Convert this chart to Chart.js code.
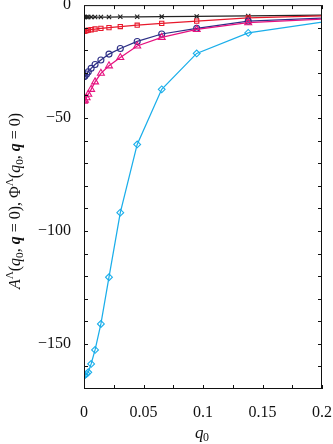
<!DOCTYPE html>
<html><head><meta charset="utf-8">
<script src="https://cdn.jsdelivr.net/npm/chart.js@4/dist/chart.umd.min.js"></script>
<style>html,body{margin:0;padding:0;background:#fff;}#wrap{width:333px;height:444px;}</style>
</head><body><div id="wrap"><canvas id="c" width="333" height="444"></canvas></div>
<script>
const q0 = [0, 0.0008, 0.0022, 0.0036, 0.006, 0.0093, 0.0142, 0.021, 0.0305, 0.0447, 0.0653, 0.0947, 0.138, 0.2];
const seriesBlack   = [-5.3, -5.3, -5.3, -5.3, -5.3, -5.3, -5.3, -5.3, -5.2, -5.2, -5.1, -5.0, -4.8, -4.4];
const seriesRed     = [-11.6, -11.5, -11.3, -11.1, -10.9, -10.6, -10.3, -10.0, -9.5, -8.9, -8.1, -7.1, -5.7, -4.8];
const seriesBlue    = [-31.7, -31.4, -30.5, -29.5, -28.0, -26.3, -24.3, -21.7, -19.2, -16.1, -12.8, -10.3, -7.1, -5.8];
const seriesMagenta = [-42.5, -42.1, -41.0, -39.5, -37.3, -34.0, -30.2, -26.9, -23.2, -18.1, -14.3, -10.8, -7.8, -6.2];
const seriesCyan    = [-164.0, -163.8, -163.3, -162.6, -158.9, -152.7, -141.2, -120.5, -91.9, -61.7, -37.3, -21.4, -12.3, -7.5];
const xTickLabels = ['0', '0.05', '0.1', '0.15', '0.2'];
const yTickLabels = ['0', '\u221250', '\u2212100', '\u2212150'];

const FONT = '"Liberation Serif", "DejaVu Serif", serif';
function pts(ys){ return q0.map((x,i)=>({x:x, y:ys[i]})); }
function ds(ys, color, style, r){
  return {data: pts(ys), borderColor: color, backgroundColor: 'rgba(0,0,0,0)', borderWidth: 1.25,
    pointStyle: style, pointRadius: (ctx)=> ctx.dataIndex === q0.length-1 ? 0 : r,
    pointBorderColor: color, pointBorderWidth: 1.1, showLine: true, tension: 0};
}
function noPad(s){ s.paddingTop = 0; s.paddingBottom = 0; s.paddingLeft = 0; s.paddingRight = 0; }

const frame = {
  id: 'frame',
  afterDatasetsDraw(chart){
    const {ctx, chartArea:a, scales:{x, y}} = chart;
    ctx.save();
    ctx.strokeStyle = '#111'; ctx.lineWidth = 1;
    ctx.strokeRect(a.left+0.5, a.top+0.5, a.right-a.left-1, a.bottom-a.top-1);
    ctx.beginPath();
    const L = 4;
    for(let v=0.025; v<0.2; v+=0.025){
      const px = Math.round(x.getPixelForValue(v))+0.5;
      ctx.moveTo(px, a.bottom); ctx.lineTo(px, a.bottom-L);
      ctx.moveTo(px, a.top); ctx.lineTo(px, a.top+L);
    }
    for(let v=-160; v<0; v+=10){
      const py = Math.round(y.getPixelForValue(v))+0.5;
      ctx.moveTo(a.left, py); ctx.lineTo(a.left+L, py);
      ctx.moveTo(a.right, py); ctx.lineTo(a.right-L, py);
    }
    ctx.stroke();
    ctx.restore();
  },
  afterDraw(chart){
    const {ctx, chartArea:a} = chart;
    ctx.save();
    ctx.fillStyle = '#111';
    ctx.textBaseline = 'alphabetic';
    let fs = 17;
    const cx = (a.left + a.right)/2 - 2;
    ctx.font = 'italic ' + fs + 'px ' + FONT;
    ctx.fillText('q', cx - 6, 438);
    ctx.font = (fs*0.7) + 'px ' + FONT;
    ctx.fillText('0', cx + 2, 441);
    fs = 16;
    const segs = [
      {t:'A', s:'italic', k:0}, {t:'\u039B', s:'', k:1}, {t:'(', s:'', k:0}, {t:'q', s:'italic', k:0}, {t:'0', s:'', k:-1},
      {t:', ', s:'', k:0}, {t:'q', s:'italic bold', k:0}, {t:' = 0), ', s:'', k:0},
      {t:'\u03A6', s:'', k:0}, {t:'\u039B', s:'', k:1}, {t:'(', s:'', k:0}, {t:'q', s:'italic', k:0}, {t:'0', s:'', k:-1},
      {t:', ', s:'', k:0}, {t:'q', s:'italic bold', k:0}, {t:' = 0)', s:'', k:0}
    ];
    const setF = (sg)=>{ const size = sg.k===0 ? fs : fs*0.7; ctx.font = (sg.s? sg.s+' ':'') + size + 'px ' + FONT; };
    let total = 0; segs.forEach(sg=>{ setF(sg); sg.w = ctx.measureText(sg.t).width; total += sg.w; });
    ctx.translate(20, 201);
    ctx.rotate(-Math.PI/2);
    let xx = -total/2;
    segs.forEach(sg=>{ setF(sg); const dy = sg.k===1 ? -7 : (sg.k===-1 ? 3 : 0); ctx.fillText(sg.t, xx, dy); xx += sg.w; });
    ctx.restore();
  }
};

new Chart(document.getElementById('c'), {
  type: 'scatter',
  data: { datasets: [
    ds(seriesCyan, '#1aaeea', 'rectRot', 3.4),
    ds(seriesMagenta, '#e6117f', 'triangle', 4),
    ds(seriesBlue, '#2d2f86', 'circle', 3),
    ds(seriesRed, '#e8192c', 'rect', 3),
    ds(seriesBlack, '#222222', 'crossRot', 3)
  ]},
  options: {
    responsive: false, animation: false, devicePixelRatio: 1,
    layout: { padding: { top: 5, right: 11, left: 0, bottom: 0 } },
    plugins: { legend: {display:false}, tooltip: {enabled:false} },
    scales: {
      x: { type: 'linear', min: 0, max: 0.2,
        border: {display:false}, grid: {display:false, drawTicks:false},
        afterFit(s){ s.height = 55; noPad(s); },
        afterBuildTicks(s){ s.ticks = [0,0.05,0.1,0.15,0.2].map(v=>({value:v})); },
        ticks: { padding: 14, color:'#111', font:{family: FONT, size: 16}, maxRotation:0,
          callback(v, i){ return xTickLabels[i]; } }
      },
      y: { type: 'linear', min: -170, max: 0,
        border: {display:false}, grid: {display:false, drawTicks:false},
        afterFit(s){ s.width = 84; noPad(s); },
        afterBuildTicks(s){ s.ticks = [0,-50,-100,-150].map(v=>({value:v})); },
        ticks: { padding: 13, color:'#111', font:{family: FONT, size: 16},
          callback(v, i){ return yTickLabels[i]; } }
      }
    }
  },
  plugins: [frame]
});
</script>
</body></html>
